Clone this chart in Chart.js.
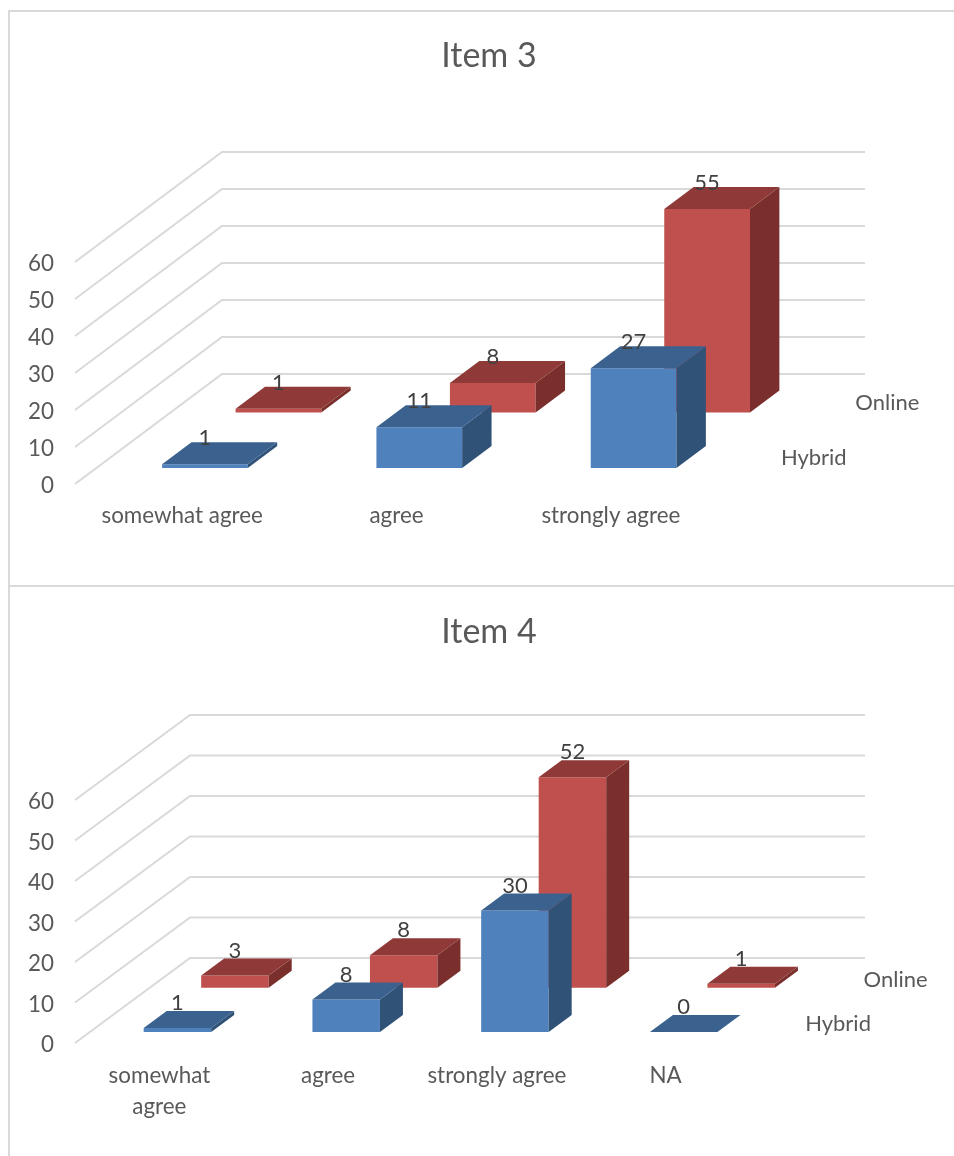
<!DOCTYPE html>
<html>
<head>
<meta charset="utf-8">
<title>Item 3 and Item 4</title>
<script src="https://cdn.jsdelivr.net/npm/chart.js@4"></script>
<style>
  html, body { margin: 0; padding: 0; background: #fff; }
  #page { position: relative; width: 954px; height: 1156px; overflow: hidden; }
  .panel { position: absolute; left: 8px; border: 0 solid #d9d9d9; border-left-width: 2px; border-top-width: 2px; }
  canvas { display: block; }
</style>
</head>
<body>
<div id="page">
  <div class="panel" style="top:10px;width:958px;height:574px"><canvas id="item3"></canvas></div>
  <div class="panel" style="top:585px;width:958px;height:571px"><canvas id="item4"></canvas></div>
</div>
<script>
// Survey responses per item
const item3Categories = ['somewhat agree', 'agree', 'strongly agree'];
const item3Hybrid = [1, 11, 27];
const item3Online = [1, 8, 55];

const item4Categories = [['somewhat', 'agree'], 'agree', 'strongly agree', 'NA'];
const item4Hybrid = [1, 8, 30, 0];
const item4Online = [3, 8, 52, 1];

const seriesNames = ['Hybrid', 'Online'];
const axisMax = 60;
const axisStep = 10;

const FONT = 'Lato, Carlito, "Open Sans", sans-serif';
const GRID = '#d9d9d9';
const TICK_TEXT = '#595959';
const VALUE_TEXT = '#404040';

// Front, top and side face colours for each series
const faces = [
  { front: '#4f81bd', top: '#3b628f', side: '#315277' },
  { front: '#c0504d', top: '#8f3a38', side: '#7a2f2d' }
];

const barDepth = 0.2;

// Draws the chart as a 3D column plot: back wall, receding gridlines,
// shaded column faces, value labels and the depth-axis series names.
const depthColumns = {
  id: 'depthColumns',
  beforeDatasetsDraw(chart, args, opts) {
    const { ctx, chartArea: area, scales: { y } } = chart;
    ctx.save();
    ctx.strokeStyle = GRID;
    ctx.lineWidth = 2;
    for (const tick of y.ticks) {
      const py = y.getPixelForValue(tick.value);
      ctx.beginPath();
      ctx.moveTo(area.left, py);
      ctx.lineTo(area.left + opts.dx, py - opts.dy);
      ctx.lineTo(area.right + opts.dx, py - opts.dy);
      ctx.stroke();
    }
    ctx.restore();
  },
  beforeDatasetDraw(chart, args, opts) {
    const { ctx } = chart;
    ctx.save();
    ctx.translate(opts.slotX[args.index] * opts.dx, -opts.slotY[args.index] * opts.dy);
  },
  afterDatasetDraw(chart, args, opts) {
    const { ctx } = chart;
    const color = faces[args.index];
    const ox = barDepth * opts.dx;
    const oy = barDepth * opts.dy;
    for (const bar of args.meta.data) {
      const left = bar.x - bar.width / 2;
      const right = bar.x + bar.width / 2;
      ctx.fillStyle = color.side;
      ctx.beginPath();
      ctx.moveTo(right, bar.y);
      ctx.lineTo(right + ox, bar.y - oy);
      ctx.lineTo(right + ox, bar.base - oy);
      ctx.lineTo(right, bar.base);
      ctx.closePath();
      ctx.fill();
      ctx.fillStyle = color.top;
      ctx.beginPath();
      ctx.moveTo(left, bar.y);
      ctx.lineTo(left + ox, bar.y - oy);
      ctx.lineTo(right + ox, bar.y - oy);
      ctx.lineTo(right, bar.y);
      ctx.closePath();
      ctx.fill();
    }
    ctx.restore();
  },
  afterDatasetsDraw(chart, args, opts) {
    const { ctx, chartArea: area, scales: { y } } = chart;
    ctx.save();
    ctx.textAlign = 'center';
    ctx.textBaseline = 'middle';
    chart.data.datasets.forEach((set, i) => {
      const ox = opts.slotX[i] * opts.dx;
      const oy = opts.slotY[i] * opts.dy;
      ctx.font = `${opts.labelSize}px ${FONT}`;
      ctx.fillStyle = VALUE_TEXT;
      chart.getDatasetMeta(i).data.forEach((bar, k) => {
        ctx.fillText(String(set.data[k]), bar.x + ox, bar.y - oy - barDepth * opts.dy - opts.labelLift);
      });
      ctx.fillStyle = TICK_TEXT;
      ctx.fillText(set.label,
        area.right + ox + opts.nameGapX,
        y.getPixelForValue(0) - oy - opts.nameGapY);
    });
    ctx.restore();
  }
};

function makeChart(id, bottomGap, categories, hybrid, online, layout) {
  new Chart(document.getElementById(id), {
    type: 'bar',
    plugins: [depthColumns],
    data: {
      labels: categories,
      datasets: [
        { label: seriesNames[0], data: hybrid, backgroundColor: faces[0].front, clip: false },
        { label: seriesNames[1], data: online, backgroundColor: faces[1].front, clip: false }
      ]
    },
    options: {
      responsive: false,
      animation: false,
      datasets: { bar: { grouped: false, barPercentage: 0.4, categoryPercentage: 1 } },
      plugins: {
        legend: { display: false },
        tooltip: { enabled: false },
        title: {
          display: true,
          text: layout.title,
          color: TICK_TEXT,
          font: { family: FONT, size: 34, weight: 'normal', lineHeight: 1.2 },
          padding: { top: layout.titleTop, bottom: layout.titleBottom }
        },
        depthColumns: {
          dx: layout.dx, dy: layout.dy, labelSize: 22,
          slotX: layout.slotX, slotY: layout.slotY, labelLift: layout.labelLift,
          nameGapX: layout.nameGapX, nameGapY: layout.nameGapY
        }
      },
      scales: {
        x: {
          grid: { display: false },
          border: { display: false },
          afterFit: s => { s.height = bottomGap; },
          ticks: {
            color: TICK_TEXT,
            padding: layout.tickPad,
            maxRotation: 0,
            autoSkip: false,
            font: { family: FONT, size: 22.4, lineHeight: 1.35 }
          }
        },
        y: {
          min: 0,
          max: axisMax,
          grid: { display: false },
          border: { display: false },
          afterFit: s => { s.width = 65; },
          ticks: {
            stepSize: axisStep,
            color: TICK_TEXT,
            padding: 13,
            labelOffset: 2,
            font: { family: FONT, size: 22.4 }
          }
        },
        // Empty axis that reserves room on the right for the depth of the plot
        depthSpace: {
          position: 'right',
          grid: { display: false },
          border: { display: false },
          ticks: { display: false },
          afterFit: s => { s.width = layout.rightGap; }
        }
      }
    }
  });
}

function sizeCanvas(id, w, h) {
  const c = document.getElementById(id);
  c.width = w;
  c.height = h;
  c.style.width = w + 'px';
  c.style.height = h + 'px';
}

sizeCanvas('item3', 958, 574);
sizeCanvas('item4', 958, 571);

makeChart('item3', 102, item3Categories, item3Hybrid, item3Online, {
  title: 'Item 3', titleTop: 23.6, titleBottom: 185.6,
  dx: 147, dy: 110, rightGap: 250, tickPad: 9,
  slotX: [0.155, 0.655], slotY: [0.145, 0.65], labelLift: 4,
  nameGapX: 73, nameGapY: 10
});

makeChart('item4', 115, item4Categories, item4Hybrid, item4Online, {
  title: 'Item 4', titleTop: 24.6, titleBottom: 147.6,
  dx: 115, dy: 85, rightGap: 218, tickPad: 10,
  slotX: [0.157, 0.657], slotY: [0.13, 0.65], labelLift: 8,
  nameGapX: 70, nameGapY: 8
});
</script>
</body>
</html>
